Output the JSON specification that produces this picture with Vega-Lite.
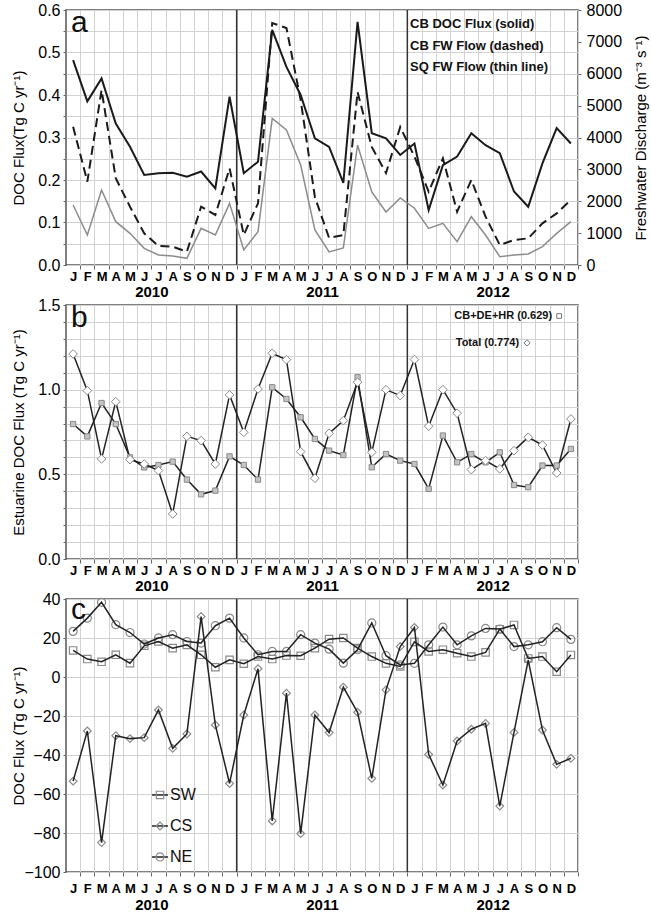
{
  "$schema": "https://vega.github.io/schema/vega-lite/v6.json",
  "padding": {"left": 10, "top": 1, "right": 2, "bottom": 0},
  "bounds": "flush",
  "spacing": 40,
  "config": {
    "font": "Liberation Sans",
    "view": {"stroke": "#555", "strokeWidth": 1.5},
    "axis": {"labelFont": "Liberation Sans", "titleFont": "Liberation Sans", "labelColor": "#000", "titleColor": "#000", "titleFontWeight": "normal", "domain": false, "tickColor": "#666", "gridColor": "#d2d2d2", "gridWidth": 1, "labelFlush": false, "labelOverlap": false}
  },
  "datasets": {
    "div": [{"x": 11.5}, {"x": 23.5}],
    "a": [
      {"m": 0, "doc": 0.482, "cb": 4340, "sq": 1882},
      {"m": 1, "doc": 0.385, "cb": 2614, "sq": 941},
      {"m": 2, "doc": 0.439, "cb": 5490, "sq": 2353},
      {"m": 3, "doc": 0.333, "cb": 2720, "sq": 1359},
      {"m": 4, "doc": 0.278, "cb": 1830, "sq": 993},
      {"m": 5, "doc": 0.212, "cb": 993, "sq": 523},
      {"m": 6, "doc": 0.216, "cb": 596, "sq": 314},
      {"m": 7, "doc": 0.217, "cb": 575, "sq": 282},
      {"m": 8, "doc": 0.208, "cb": 418, "sq": 209},
      {"m": 9, "doc": 0.22, "cb": 1830, "sq": 1150},
      {"m": 10, "doc": 0.18, "cb": 1569, "sq": 941},
      {"m": 11, "doc": 0.396, "cb": 3033, "sq": 1935},
      {"m": 12, "doc": 0.216, "cb": 941, "sq": 471},
      {"m": 13, "doc": 0.243, "cb": 1935, "sq": 1046},
      {"m": 14, "doc": 0.553, "cb": 7592, "sq": 4601},
      {"m": 15, "doc": 0.466, "cb": 7435, "sq": 4235},
      {"m": 16, "doc": 0.4, "cb": 5176, "sq": 3137},
      {"m": 17, "doc": 0.298, "cb": 2133, "sq": 1098},
      {"m": 18, "doc": 0.278, "cb": 847, "sq": 408},
      {"m": 19, "doc": 0.193, "cb": 941, "sq": 533},
      {"m": 20, "doc": 0.572, "cb": 5427, "sq": 3765},
      {"m": 21, "doc": 0.31, "cb": 3702, "sq": 2290},
      {"m": 22, "doc": 0.298, "cb": 2886, "sq": 1663},
      {"m": 23, "doc": 0.259, "cb": 4329, "sq": 2102},
      {"m": 24, "doc": 0.286, "cb": 3400, "sq": 1780},
      {"m": 25, "doc": 0.129, "cb": 2300, "sq": 1150},
      {"m": 26, "doc": 0.235, "cb": 3346, "sq": 1307},
      {"m": 27, "doc": 0.255, "cb": 1673, "sq": 732},
      {"m": 28, "doc": 0.31, "cb": 2667, "sq": 1516},
      {"m": 29, "doc": 0.282, "cb": 1516, "sq": 941},
      {"m": 30, "doc": 0.263, "cb": 627, "sq": 261},
      {"m": 31, "doc": 0.173, "cb": 784, "sq": 314},
      {"m": 32, "doc": 0.137, "cb": 837, "sq": 345},
      {"m": 33, "doc": 0.239, "cb": 1307, "sq": 575},
      {"m": 34, "doc": 0.322, "cb": 1620, "sq": 993},
      {"m": 35, "doc": 0.286, "cb": 2039, "sq": 1359}
    ],
    "b": [
      {"m": 0, "sq": 0.797, "tot": 1.211},
      {"m": 1, "sq": 0.724, "tot": 0.994},
      {"m": 2, "sq": 0.921, "tot": 0.591},
      {"m": 3, "sq": 0.797, "tot": 0.929},
      {"m": 4, "sq": 0.6, "tot": 0.587},
      {"m": 5, "sq": 0.541, "tot": 0.561},
      {"m": 6, "sq": 0.555, "tot": 0.522},
      {"m": 7, "sq": 0.575, "tot": 0.266},
      {"m": 8, "sq": 0.469, "tot": 0.724},
      {"m": 9, "sq": 0.382, "tot": 0.699},
      {"m": 10, "sq": 0.404, "tot": 0.561},
      {"m": 11, "sq": 0.606, "tot": 0.969},
      {"m": 12, "sq": 0.555, "tot": 0.748},
      {"m": 13, "sq": 0.469, "tot": 1.004},
      {"m": 14, "sq": 1.014, "tot": 1.215},
      {"m": 15, "sq": 0.945, "tot": 1.177},
      {"m": 16, "sq": 0.837, "tot": 0.634},
      {"m": 17, "sq": 0.709, "tot": 0.477},
      {"m": 18, "sq": 0.64, "tot": 0.742},
      {"m": 19, "sq": 0.614, "tot": 0.817},
      {"m": 20, "sq": 1.073, "tot": 1.044},
      {"m": 21, "sq": 0.542, "tot": 0.63},
      {"m": 22, "sq": 0.62, "tot": 1.0},
      {"m": 23, "sq": 0.581, "tot": 0.965},
      {"m": 24, "sq": 0.561, "tot": 1.178},
      {"m": 25, "sq": 0.414, "tot": 0.784},
      {"m": 26, "sq": 0.729, "tot": 1.0},
      {"m": 27, "sq": 0.571, "tot": 0.861},
      {"m": 28, "sq": 0.62, "tot": 0.528},
      {"m": 29, "sq": 0.571, "tot": 0.581},
      {"m": 30, "sq": 0.63, "tot": 0.532},
      {"m": 31, "sq": 0.437, "tot": 0.64},
      {"m": 32, "sq": 0.424, "tot": 0.719},
      {"m": 33, "sq": 0.552, "tot": 0.673},
      {"m": 34, "sq": 0.552, "tot": 0.508},
      {"m": 35, "sq": 0.65, "tot": 0.827}
    ],
    "c": [
      {"m": 0, "sw": 13.6, "cs": -53.4, "ne": 23.4},
      {"m": 1, "sw": 9.2, "cs": -27.7, "ne": 30.2},
      {"m": 2, "sw": 7.8, "cs": -84.9, "ne": 38.3},
      {"m": 3, "sw": 11.4, "cs": -30.1, "ne": 26.8},
      {"m": 4, "sw": 7.1, "cs": -31.6, "ne": 22.8},
      {"m": 5, "sw": 16, "cs": -31.1, "ne": 16.9},
      {"m": 6, "sw": 18.2, "cs": -16.9, "ne": 20},
      {"m": 7, "sw": 14.8, "cs": -36.6, "ne": 21.7},
      {"m": 8, "sw": 16.5, "cs": -29.2, "ne": 18.2},
      {"m": 9, "sw": 11.4, "cs": 31, "ne": 17.4},
      {"m": 10, "sw": 5, "cs": -24.6, "ne": 26.3},
      {"m": 11, "sw": 8.8, "cs": -54.6, "ne": 30.2},
      {"m": 12, "sw": 6.8, "cs": -19.5, "ne": 20},
      {"m": 13, "sw": 10.5, "cs": 4.2, "ne": 11.4},
      {"m": 14, "sw": 9.2, "cs": -73.8, "ne": 13.1},
      {"m": 15, "sw": 11, "cs": -8.3, "ne": 13.1},
      {"m": 16, "sw": 10.9, "cs": -80.3, "ne": 21.7},
      {"m": 17, "sw": 14.8, "cs": -19.5, "ne": 17.4},
      {"m": 18, "sw": 19.4, "cs": -28.5, "ne": 14.3},
      {"m": 19, "sw": 20, "cs": -5.2, "ne": 7.1},
      {"m": 20, "sw": 14.8, "cs": -18.1, "ne": 14},
      {"m": 21, "sw": 10.5, "cs": -52, "ne": 27.7},
      {"m": 22, "sw": 7, "cs": -6.6, "ne": 10.9},
      {"m": 23, "sw": 5.4, "cs": 15.6, "ne": 6.2},
      {"m": 24, "sw": 18, "cs": 25.4, "ne": 7},
      {"m": 25, "sw": 13.1, "cs": -39.7, "ne": 16.5},
      {"m": 26, "sw": 14, "cs": -55.4, "ne": 25.6},
      {"m": 27, "sw": 12.2, "cs": -32.8, "ne": 16.5},
      {"m": 28, "sw": 10.5, "cs": -26.8, "ne": 21.1},
      {"m": 29, "sw": 12.6, "cs": -23.8, "ne": 24.9},
      {"m": 30, "sw": 24.5, "cs": -66.2, "ne": 24.6},
      {"m": 31, "sw": 26.7, "cs": -28.4, "ne": 15.6},
      {"m": 32, "sw": 9.5, "cs": 8.7, "ne": 16.5},
      {"m": 33, "sw": 10.5, "cs": -27.2, "ne": 18.1},
      {"m": 34, "sw": 2.7, "cs": -44.8, "ne": 25.3},
      {"m": 35, "sw": 11.3, "cs": -41.7, "ne": 19.3}
    ]
  },
  "vconcat": [
    {
      "width": 512,
      "height": 255,
      "title": {"text": "a", "anchor": "start", "frame": "group", "fontSize": 30, "fontWeight": "normal", "font": "Liberation Sans", "color": "#111", "dx": 5, "dy": 40},
      "layer": [
        {
          "data": {"name": "div"},
          "mark": {"type": "rule", "color": "#333", "strokeWidth": 1.5},
          "encoding": {
            "x": {"field": "x", "type": "quantitative", "scale": {"domain": [-0.5, 35.5], "nice": false, "zero": false},
              "axis": {"orient": "bottom", "values": [5.5, 17.5, 29.5], "labelExpr": "datum.value < 12 ? '2010' : (datum.value < 24 ? '2011' : '2012')", "ticks": false, "tickSize": 0, "grid": false, "labelPadding": 19, "labelFontSize": 15, "labelFontWeight": "bold", "title": null}}
          }
        },
        {
          "data": {"name": "a"},
          "mark": {"type": "line", "strokeWidth": 2, "color": "#1a1a1a"},
          "encoding": {
            "x": {"field": "m", "type": "quantitative", "axis": {"orient": "bottom", "values": [0,1,2,3,4,5,6,7,8,9,10,11,12,13,14,15,16,17,18,19,20,21,22,23,24,25,26,27,28,29,30,31,32,33,34,35], "labelExpr": "['J','F','M','A','M','J','J','A','S','O','N','D'][datum.value % 12]", "tickOffset": 7.11, "labelOffset": -7.11, "grid": true, "tickSize": 4, "labelPadding": 1, "labelFontWeight": "bold", "labelFontSize": 13, "labelAngle": 0, "title": null}},
            "y": {"field": "doc", "type": "quantitative", "scale": {"domain": [0, 0.6], "nice": false},
              "axis": {"values": [0,0.05,0.1,0.15,0.2,0.25,0.3,0.35,0.4,0.45,0.5,0.55,0.6], "labelExpr": "round(datum.value*100) % 10 == 0 ? format(datum.value, '.1f') : ''", "grid": true, "tickSize": 3, "labelPadding": 3, "labelFontSize": 16, "title": "DOC Flux(Tg C yr⁻¹)", "titleFontSize": 15, "titleBaseline": "middle", "titleX": -48, "titleY": 127.5}}
          }
        },
        {
          "data": {"name": "a"},
          "mark": {"type": "line", "strokeWidth": 2, "strokeDash": [9, 5], "color": "#1a1a1a"},
          "encoding": {
            "x": {"field": "m", "type": "quantitative", "axis": null},
            "y": {"field": "cb", "type": "quantitative", "scale": {"domain": [0, 8000], "nice": false},
              "axis": {"orient": "right", "values": [0,1000,2000,3000,4000,5000,6000,7000,8000], "format": "d", "grid": false, "tickSize": 3, "labelPadding": 5, "labelFontSize": 16, "title": "Freshwater Discharge (m⁻³ s⁻¹)", "titleFontSize": 15, "titleAngle": -90, "titleBaseline": "middle", "titleX": 62, "titleY": 127.5}}
          }
        },
        {
          "data": {"name": "a"},
          "mark": {"type": "line", "strokeWidth": 1.5, "color": "#8c8c8c"},
          "encoding": {
            "x": {"field": "m", "type": "quantitative", "axis": null},
            "y": {"field": "sq", "type": "quantitative", "scale": {"domain": [0, 8000], "nice": false}, "axis": null}
          }
        },
        {
          "data": {"values": [{}]},
          "mark": {"type": "text", "align": "left", "baseline": "top", "fontSize": 13, "fontWeight": "bold", "color": "#111", "lineHeight": 21.5},
          "encoding": {
            "x": {"datum": 23.69, "type": "quantitative", "axis": null},
            "y": {"datum": 0.581, "type": "quantitative", "scale": {"domain": [0, 0.6], "nice": false}, "axis": null},
            "text": {"value": ["CB DOC Flux (solid)", "CB FW Flow (dashed)", "SQ FW Flow (thin line)"]}
          }
        }
      ],
      "resolve": {"scale": {"y": "independent"}, "axis": {"x": "independent", "y": "independent"}}
    },
    {
      "width": 512,
      "height": 254,
      "title": {"text": "b", "anchor": "start", "frame": "group", "fontSize": 30, "fontWeight": "normal", "font": "Liberation Sans", "color": "#111", "dx": 5, "dy": 40},
      "layer": [
        {
          "data": {"name": "div"},
          "mark": {"type": "rule", "color": "#333", "strokeWidth": 1.5},
          "encoding": {
            "x": {"field": "x", "type": "quantitative", "scale": {"domain": [-0.5, 35.5], "nice": false, "zero": false},
              "axis": {"orient": "bottom", "values": [5.5, 17.5, 29.5], "labelExpr": "datum.value < 12 ? '2010' : (datum.value < 24 ? '2011' : '2012')", "ticks": false, "tickSize": 0, "grid": false, "labelPadding": 19, "labelFontSize": 15, "labelFontWeight": "bold", "title": null}}
          }
        },
        {
          "data": {"name": "b"},
          "mark": {"type": "line", "strokeWidth": 1.5, "color": "#222"},
          "encoding": {
            "x": {"field": "m", "type": "quantitative", "axis": {"orient": "bottom", "values": [0,1,2,3,4,5,6,7,8,9,10,11,12,13,14,15,16,17,18,19,20,21,22,23,24,25,26,27,28,29,30,31,32,33,34,35], "labelExpr": "['J','F','M','A','M','J','J','A','S','O','N','D'][datum.value % 12]", "tickOffset": 7.11, "labelOffset": -7.11, "grid": true, "tickSize": 4, "labelPadding": 1, "labelFontWeight": "bold", "labelFontSize": 13, "labelAngle": 0, "title": null}},
            "y": {"field": "sq", "type": "quantitative", "scale": {"domain": [0, 1.5], "nice": false},
              "axis": {"values": [0,0.1,0.2,0.3,0.4,0.5,0.6,0.7,0.8,0.9,1,1.1,1.2,1.3,1.4,1.5], "labelExpr": "round(datum.value*10) % 5 == 0 ? format(datum.value, '.1f') : ''", "grid": true, "tickSize": 3, "labelPadding": 3, "labelFontSize": 16, "title": "Estuarine DOC Flux (Tg C yr⁻¹)", "titleFontSize": 15, "titleBaseline": "middle", "titleX": -48, "titleY": 127}}
          }
        },
        {
          "data": {"name": "b"},
          "mark": {"type": "line", "strokeWidth": 1.5, "color": "#222"},
          "encoding": {
            "x": {"field": "m", "type": "quantitative", "axis": null},
            "y": {"field": "tot", "type": "quantitative", "axis": null}
          }
        },
        {
          "data": {"name": "b"},
          "mark": {"type": "point", "shape": "square", "filled": true, "fill": "#c4c4c4", "stroke": "#888", "strokeWidth": 1, "size": 28, "opacity": 1},
          "encoding": {
            "x": {"field": "m", "type": "quantitative", "axis": null},
            "y": {"field": "sq", "type": "quantitative", "axis": null}
          }
        },
        {
          "data": {"name": "b"},
          "mark": {"type": "point", "shape": "diamond", "filled": true, "fill": "#ffffff", "stroke": "#888", "strokeWidth": 1, "size": 75, "opacity": 1},
          "encoding": {
            "x": {"field": "m", "type": "quantitative", "axis": null},
            "y": {"field": "tot", "type": "quantitative", "axis": null}
          }
        },
        {
          "data": {"values": [{}]},
          "mark": {"type": "text", "align": "right", "baseline": "middle", "fontSize": 11, "fontWeight": "bold", "color": "#111"},
          "encoding": {
            "x": {"datum": 33.68, "type": "quantitative", "axis": null},
            "y": {"datum": 1.435, "type": "quantitative", "axis": null},
            "text": {"value": "CB+DE+HR (0.629)"}
          }
        },
        {
          "data": {"values": [{}]},
          "mark": {"type": "text", "align": "right", "baseline": "middle", "fontSize": 11, "fontWeight": "bold", "color": "#111"},
          "encoding": {
            "x": {"datum": 31.36, "type": "quantitative", "axis": null},
            "y": {"datum": 1.276, "type": "quantitative", "axis": null},
            "text": {"value": "Total (0.774)"}
          }
        },
        {
          "data": {"values": [{}]},
          "mark": {"type": "point", "shape": "square", "filled": false, "stroke": "#777", "strokeWidth": 1, "size": 22, "opacity": 1},
          "encoding": {
            "x": {"datum": 34.17, "type": "quantitative", "axis": null},
            "y": {"datum": 1.435, "type": "quantitative", "axis": null}
          }
        },
        {
          "data": {"values": [{}]},
          "mark": {"type": "point", "shape": "diamond", "filled": false, "stroke": "#777", "strokeWidth": 1, "size": 40, "opacity": 1},
          "encoding": {
            "x": {"datum": 31.92, "type": "quantitative", "axis": null},
            "y": {"datum": 1.276, "type": "quantitative", "axis": null}
          }
        }
      ],
      "resolve": {"axis": {"x": "independent", "y": "independent"}}
    },
    {
      "width": 512,
      "height": 273,
      "title": {"text": "c", "anchor": "start", "frame": "group", "fontSize": 30, "fontWeight": "normal", "font": "Liberation Sans", "color": "#111", "dx": 5, "dy": 38},
      "layer": [
        {
          "data": {"name": "div"},
          "mark": {"type": "rule", "color": "#333", "strokeWidth": 1.5},
          "encoding": {
            "x": {"field": "x", "type": "quantitative", "scale": {"domain": [-0.5, 35.5], "nice": false, "zero": false},
              "axis": {"orient": "bottom", "values": [5.5, 17.5, 29.5], "labelExpr": "datum.value < 12 ? '2010' : (datum.value < 24 ? '2011' : '2012')", "ticks": false, "tickSize": 0, "grid": false, "labelPadding": 25, "labelFontSize": 15, "labelFontWeight": "bold", "title": null}}
          }
        },
        {
          "data": {"name": "c"},
          "mark": {"type": "point", "shape": "square", "filled": false, "stroke": "#8a8a8a", "strokeWidth": 1.2, "size": 55, "opacity": 1},
          "encoding": {
            "x": {"field": "m", "type": "quantitative", "axis": {"orient": "bottom", "values": [0,1,2,3,4,5,6,7,8,9,10,11,12,13,14,15,16,17,18,19,20,21,22,23,24,25,26,27,28,29,30,31,32,33,34,35], "labelExpr": "['J','F','M','A','M','J','J','A','S','O','N','D'][datum.value % 12]", "tickOffset": 7.11, "labelOffset": -7.11, "grid": true, "tickSize": 4, "labelPadding": 6, "labelFontWeight": "bold", "labelFontSize": 13, "labelAngle": 0, "title": null}},
            "y": {"field": "sw", "type": "quantitative", "scale": {"domain": [-100, 40], "nice": false},
              "axis": {"values": [-100,-80,-60,-40,-20,0,20,40], "format": "d", "grid": true, "tickSize": 3, "labelPadding": 3, "labelFontSize": 16, "title": "DOC Flux (Tg C yr⁻¹)", "titleFontSize": 15, "titleBaseline": "middle", "titleX": -48, "titleY": 136.5}}
          }
        },
        {
          "data": {"name": "c"},
          "mark": {"type": "point", "shape": "diamond", "filled": false, "stroke": "#8a8a8a", "strokeWidth": 1.2, "size": 60, "opacity": 1},
          "encoding": {
            "x": {"field": "m", "type": "quantitative", "axis": null},
            "y": {"field": "cs", "type": "quantitative", "axis": null}
          }
        },
        {
          "data": {"name": "c"},
          "mark": {"type": "point", "shape": "circle", "filled": false, "stroke": "#8a8a8a", "strokeWidth": 1.2, "size": 65, "opacity": 1},
          "encoding": {
            "x": {"field": "m", "type": "quantitative", "axis": null},
            "y": {"field": "ne", "type": "quantitative", "axis": null}
          }
        },
        {
          "data": {"name": "c"},
          "mark": {"type": "line", "strokeWidth": 1.5, "color": "#222"},
          "encoding": {
            "x": {"field": "m", "type": "quantitative", "axis": null},
            "y": {"field": "sw", "type": "quantitative", "axis": null}
          }
        },
        {
          "data": {"name": "c"},
          "mark": {"type": "line", "strokeWidth": 1.5, "color": "#222"},
          "encoding": {
            "x": {"field": "m", "type": "quantitative", "axis": null},
            "y": {"field": "cs", "type": "quantitative", "axis": null}
          }
        },
        {
          "data": {"name": "c"},
          "mark": {"type": "line", "strokeWidth": 1.5, "color": "#222"},
          "encoding": {
            "x": {"field": "m", "type": "quantitative", "axis": null},
            "y": {"field": "ne", "type": "quantitative", "axis": null}
          }
        },
        {
          "data": {"values": [{}]},
          "mark": {"type": "rule", "strokeWidth": 1.5, "color": "#222"},
          "encoding": {"x": {"datum": 5.55, "type": "quantitative", "axis": null}, "x2": {"datum": 6.67}, "y": {"datum": -60.5, "type": "quantitative", "axis": null}}
        },
        {
          "data": {"values": [{}]},
          "mark": {"type": "rule", "strokeWidth": 1.5, "color": "#222"},
          "encoding": {"x": {"datum": 5.55, "type": "quantitative", "axis": null}, "x2": {"datum": 6.67}, "y": {"datum": -76.4, "type": "quantitative", "axis": null}}
        },
        {
          "data": {"values": [{}]},
          "mark": {"type": "rule", "strokeWidth": 1.5, "color": "#222"},
          "encoding": {"x": {"datum": 5.55, "type": "quantitative", "axis": null}, "x2": {"datum": 6.67}, "y": {"datum": -92.3, "type": "quantitative", "axis": null}}
        },
        {
          "data": {"values": [{}]},
          "mark": {"type": "point", "shape": "square", "filled": false, "stroke": "#8a8a8a", "strokeWidth": 1.2, "size": 55, "opacity": 1},
          "encoding": {"x": {"datum": 6.11, "type": "quantitative", "axis": null}, "y": {"datum": -60.5, "type": "quantitative", "axis": null}}
        },
        {
          "data": {"values": [{}]},
          "mark": {"type": "point", "shape": "diamond", "filled": false, "stroke": "#8a8a8a", "strokeWidth": 1.2, "size": 60, "opacity": 1},
          "encoding": {"x": {"datum": 6.11, "type": "quantitative", "axis": null}, "y": {"datum": -76.4, "type": "quantitative", "axis": null}}
        },
        {
          "data": {"values": [{}]},
          "mark": {"type": "point", "shape": "circle", "filled": false, "stroke": "#8a8a8a", "strokeWidth": 1.2, "size": 65, "opacity": 1},
          "encoding": {"x": {"datum": 6.11, "type": "quantitative", "axis": null}, "y": {"datum": -92.3, "type": "quantitative", "axis": null}}
        },
        {
          "data": {"values": [{}]},
          "mark": {"type": "text", "align": "left", "baseline": "middle", "fontSize": 16, "color": "#111", "lineHeight": 31},
          "encoding": {
            "x": {"datum": 6.81, "type": "quantitative", "axis": null},
            "y": {"datum": -60.5, "type": "quantitative", "axis": null},
            "text": {"value": ["SW", "CS", "NE"]}
          }
        }
      ],
      "resolve": {"axis": {"x": "independent", "y": "independent"}}
    }
  ]
}
